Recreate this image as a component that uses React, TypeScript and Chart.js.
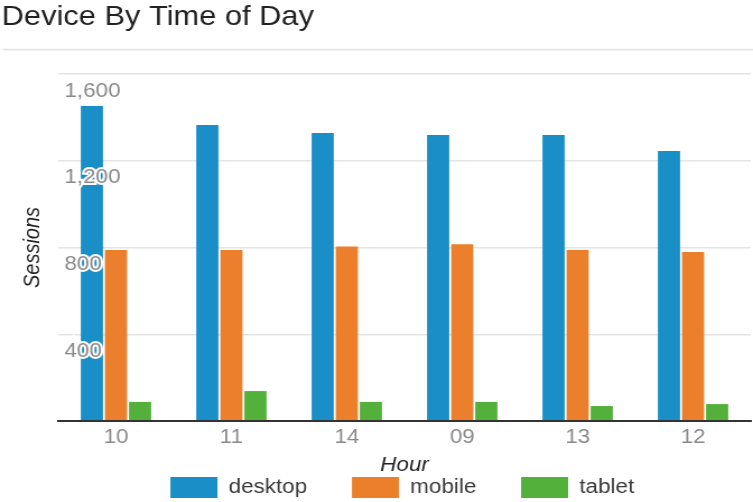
import React, { useEffect, useRef } from 'react';
import { Chart, registerables } from 'chart.js';

Chart.register(...registerables);

// ---- data ----
const hours = ['10', '11', '14', '09', '13', '12'];
const desktop = [1452, 1365, 1328, 1319, 1319, 1245];
const mobile = [788, 788, 805, 815, 788, 779];
const tablet = [88, 138, 88, 88, 69, 78];
const seriesNames = ['desktop', 'mobile', 'tablet'];
const yMax = 1600;
const yStep = 400;

// ---- layout / style ----
const W = 672;
const H = 502;
const DISPLAY_W = 753;
const FONT = "'Liberation Sans', Arial, Helvetica, sans-serif";
const LEGEND_PAD = 40;
const COLORS = ['#1a8ec7', '#ec7f2c', '#53b13b'];

export default function App() {
  const ref = useRef<HTMLCanvasElement>(null);

  useEffect(() => {
    if (!ref.current) return;
    Chart.defaults.font.family = FONT;

    const separator = {
      id: 'separator',
      beforeDraw(chart: any) {
        const { ctx } = chart;
        ctx.save();
        ctx.fillStyle = '#e2e2e2';
        ctx.fillRect(2.7, 48.8, chart.width, 1.6);
        ctx.restore();
      },
    };
    const legendShift = {
      id: 'legendShift',
      afterLayout(chart: any) {
        const l = chart.legend;
        if (l) {
          l.top -= LEGEND_PAD;
          l.left -= 2;
          l.right -= 2;
        }
      },
    };

    const seriesData = [desktop, mobile, tablet];
    const chart = new Chart(ref.current, {
      type: 'bar',
      data: {
        labels: hours,
        datasets: seriesNames.map((name, i) => ({
          label: name,
          data: seriesData[i],
          backgroundColor: COLORS[i],
          borderWidth: 0,
          barPercentage: 0.92,
          categoryPercentage: 0.626,
        })),
      },
      options: {
        responsive: false,
        animation: false,
        devicePixelRatio: 1,
        events: [],
        layout: { padding: { left: 1.5, right: 2, top: 0, bottom: 0 } },
        plugins: {
          tooltip: { enabled: false },
          title: {
            display: true,
            text: 'Device By Time of Day',
            align: 'start',
            color: '#222',
            font: { family: FONT, size: 27.5, weight: 'normal', lineHeight: 1.2 },
            padding: { top: 0.5, bottom: 40.5 },
          },
          legend: {
            display: true,
            position: 'bottom',
            fullSize: false,
            maxHeight: 25,
            labels: {
              boxWidth: 42,
              boxHeight: 21,
              padding: LEGEND_PAD,
              color: '#3a3a3a',
              font: { family: FONT, size: 20 },
            },
          },
        },
        scales: {
          x: {
            grid: { display: false, drawTicks: false },
            border: { display: true, color: '#333', width: 2, z: 1 },
            ticks: { color: '#8a8a8a', padding: 4, font: { family: FONT, size: 20 } },
            title: {
              display: true,
              text: 'Hour',
              color: '#222',
              font: { family: FONT, size: 20, style: 'italic', lineHeight: 1.2 },
              padding: { top: 0, bottom: 0 },
            },
          },
          y: {
            min: 0,
            max: yMax,
            grid: { color: '#e4e4e4', lineWidth: 1.5, drawTicks: false },
            border: { display: false },
            ticks: {
              stepSize: yStep,
              mirror: true,
              padding: 5.5,
              labelOffset: 17,
              z: 1,
              color: '#8a8a8a',
              textStrokeColor: '#ffffff',
              textStrokeWidth: 4,
              font: { family: FONT, size: 20 },
              callback: (v: any) => (Number(v) === 0 ? '' : Number(v).toLocaleString('en-US')),
            },
            title: {
              display: true,
              text: 'Sessions',
              color: '#222',
              font: { family: FONT, size: 20, style: 'italic', lineHeight: 1.2 },
              padding: { top: 15.5, bottom: 0 },
            },
          },
        },
      },
      plugins: [separator, legendShift],
    } as any);

    return () => chart.destroy();
  }, []);

  return (
    <div style={{ position: 'fixed', left: 0, top: 0, width: DISPLAY_W, height: H, background: '#fff' }}>
      <canvas
        ref={ref}
        width={W}
        height={H}
        style={{ width: DISPLAY_W + 'px', height: H + 'px', display: 'block' }}
      />
    </div>
  );
}
